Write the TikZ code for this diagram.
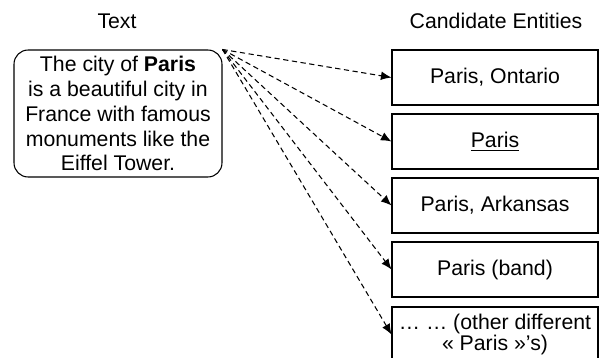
\documentclass[tikz,border=0pt]{standalone}
\usepackage{fontspec}
\setmainfont{Liberation Sans}
\usetikzlibrary{arrows.meta}
\begin{document}
\begin{tikzpicture}[x=0.02cm,y=-0.02cm,font=\fontsize{12.1}{14.2}\selectfont,
    entity/.style={draw,semithick,minimum width=4.12cm,minimum height=1.1cm,inner sep=0pt,align=center},
    link/.style={semithick,dash pattern=on 3pt off 2pt,-{Latex[length=6pt,width=5pt]}}]
  \useasboundingbox (0,0) rectangle (599,358);
  \clip (0,0) rectangle (599,358);
  \node (ttl) at (117,21) {Text};
  \node (cttl) at (496,21) {Candidate Entities};
  \node[draw,semithick,rounded corners=8pt,minimum width=4.16cm,minimum height=2.54cm,inner sep=0pt,align=center] (txt) at (118,113.5)
    {The city of \textbf{Paris}\\ is a beautiful city in\\ France with famous\\ monuments like the\\ Eiffel Tower.};
  \node[entity] (ent1) at (495,77.5) {Paris, Ontario};
  \node[entity] (ent2) at (495,141.5) {\underline{Paris}};
  \node[entity] (ent3) at (495,205.5) {Paris, Arkansas};
  \node[entity] (ent4) at (495,269.5) {Paris (band)};
  \node[entity,font=\fontsize{12.1}{10.8}\selectfont] (ent5) at (495,334.5) {… … (other different\\ « Paris »’s)};
  \foreach \e in {ent1,ent2,ent3,ent4,ent5}
    \draw[link] (txt.north east) -- (\e.west);
\end{tikzpicture}
\end{document}
